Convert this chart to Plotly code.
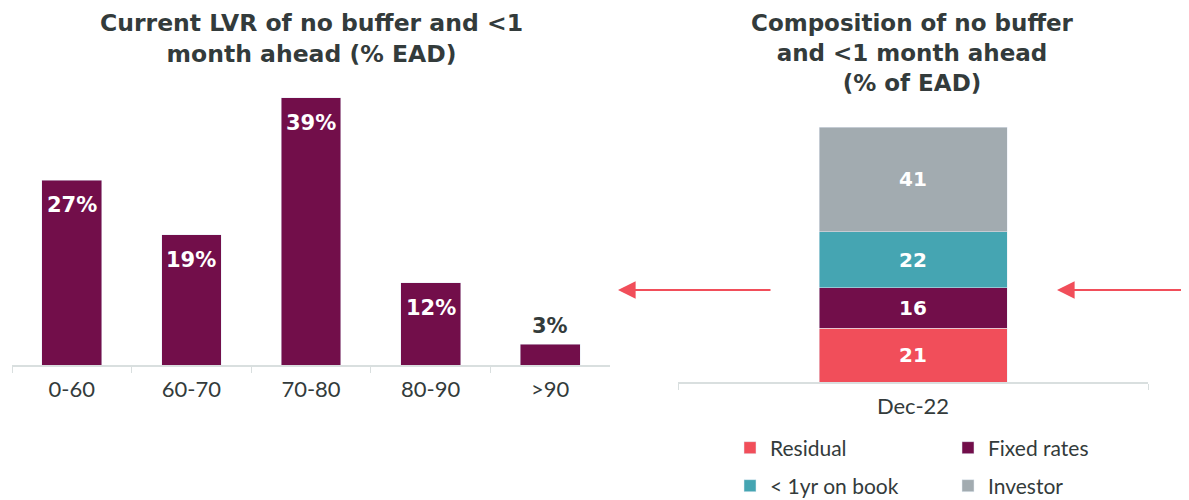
import plotly.graph_objects as go

# left chart: current LVR (% EAD)
lvr_buckets = ["0-60", "60-70", "70-80", "80-90", ">90"]
lvr_share = [27, 19, 39, 12, 3]

# right chart: composition (% of EAD)
comp_period = ["Dec-22"]
comp_series = ["Residual", "Fixed rates", "< 1yr on book", "Investor"]
comp_values = [[21], [16], [22], [41]]

MAROON = "#720e4a"
RED = "#f14e5a"
TEAL = "#45a5b2"
GREY = "#a2abb0"
DARK = "#333b3b"
AXIS = "#d9dfdf"
comp_colors = [RED, MAROON, TEAL, GREY]
FONT = "Lato"
BOLD = "DejaVu Sans"

W, H = 1189, 500
OFF = 8  # page body margin


def px_x(p):
    return (p - OFF) / W


def px_y(p):
    return 1 - (p - OFF) / H


fig = go.Figure()

fig.add_trace(go.Bar(
    x=lvr_buckets, y=lvr_share, xaxis="x", yaxis="y",
    marker_color=MAROON, width=0.5, showlegend=False,
    hoverinfo="skip",
))

# value labels: inside near the top, except the small last bar
for cat, v in zip(lvr_buckets, lvr_share):
    inside = v >= 10
    fig.add_annotation(
        x=cat, y=v, xref="x", yref="y", text=f"{v}%", showarrow=False,
        yanchor="top" if inside else "bottom",
        yshift=-11 if inside else 4,
        font=dict(color="white" if inside else DARK, size=21,
                  family=BOLD, weight="bold"),
    )

for i, (name, vals) in enumerate(zip(comp_series, comp_values)):
    fig.add_trace(go.Bar(
        x=comp_period, y=vals, name=name, xaxis="x2", yaxis="y2",
        marker_color=comp_colors[i], width=0.4,
        text=vals, textposition="inside", insidetextanchor="middle",
        textfont=dict(color="white", size=20, family=BOLD, weight="bold"),
        legend="legend" if i < 2 else "legend2",
        hoverinfo="skip",
    ))

axis_common = dict(
    showline=True, linecolor=AXIS, linewidth=1.5,
    ticks="outside", tickson="boundaries", ticklen=6, tickcolor=AXIS,
    tickfont=dict(size=22, color=DARK, family=FONT),
    ticklabelstandoff=4,
    showgrid=False, zeroline=False, fixedrange=True,
)

legend_common = dict(
    orientation="h", xanchor="left", yanchor="middle",
    entrywidth=173, traceorder="normal", itemwidth=30,
    font=dict(size=21, color=DARK, family=FONT),
    itemclick=False, itemdoubleclick=False,
)

fig.update_layout(
    width=W, height=H,
    margin=dict(l=0, r=0, t=0, b=0),
    paper_bgcolor="white", plot_bgcolor="white",
    barmode="stack",
    font=dict(family=FONT, color=DARK),
    xaxis=dict(domain=[px_x(12), px_x(610)], anchor="y", **axis_common),
    yaxis=dict(domain=[px_y(365), px_y(91)], range=[0, 40], visible=False),
    xaxis2=dict(domain=[px_x(678), px_x(1148)], anchor="y2", **axis_common),
    yaxis2=dict(domain=[px_y(382), px_y(127)], range=[0, 100], visible=False),
    legend=dict(x=px_x(730), y=px_y(448), **legend_common),
    legend2=dict(x=px_x(730), y=px_y(486), **legend_common),
)

fig.add_annotation(
    text="Current LVR of no buffer and <1<br>month ahead (% EAD)",
    x=px_x(311), y=px_y(38), xref="paper", yref="paper",
    xanchor="center", yanchor="middle", showarrow=False,
    font=dict(size=23.5, color=DARK, family=BOLD, weight="bold"),
)
fig.add_annotation(
    text="Composition of no buffer<br>and <1 month ahead<br>(% of EAD)",
    x=px_x(912), y=px_y(53), xref="paper", yref="paper",
    xanchor="center", yanchor="middle", showarrow=False,
    font=dict(size=23, color=DARK, family=BOLD, weight="bold"),
)

# red arrows pointing left
for head, tail in [(618, 772), (1057, 1192)]:
    fig.add_annotation(
        x=px_x(head), y=px_y(290), xref="paper", yref="paper",
        ax=tail - head, ay=0, text="", showarrow=True,
        arrowhead=2, arrowsize=1.6, arrowwidth=2.2, arrowcolor=RED,
    )

fig.write_html("out.html")
